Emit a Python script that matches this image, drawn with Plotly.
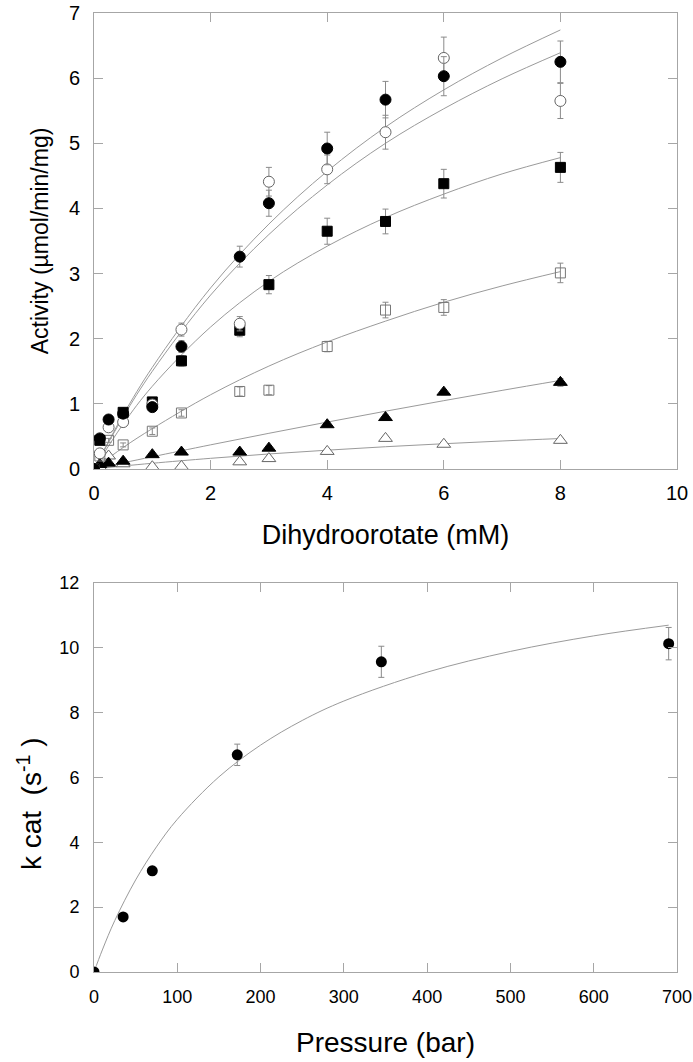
import plotly.graph_objects as go

# ---------------- Top panel: activity vs dihydroorotate ----------------
dho_mM = [0, 0.1, 0.25, 0.5, 1, 1.5, 2.5, 3, 4, 5, 6, 8]

act_filled_circle = [0, 0.47, 0.76, 0.85, 0.95, 1.88, 3.26, 4.08, 4.92, 5.67, 6.03, 6.25]
err_filled_circle = [0, 0.03, 0.04, 0.04, 0.05, 0.09, 0.16, 0.20, 0.25, 0.28, 0.30, 0.32]

act_open_circle = [0, 0.24, 0.64, 0.72, 0.99, 2.14, 2.23, 4.41, 4.60, 5.17, 6.31, 5.65]
err_open_circle = [0, 0.02, 0.04, 0.04, 0.05, 0.10, 0.11, 0.22, 0.22, 0.26, 0.32, 0.27]

act_filled_square = [0, 0.44, None, 0.87, 1.03, 1.66, 2.13, 2.83, 3.65, 3.80, 4.38, 4.63]
err_filled_square = [0, 0.03, 0, 0.05, 0.05, 0.08, 0.10, 0.14, 0.20, 0.19, 0.22, 0.23]

act_open_square = [0, 0.20, 0.44, 0.37, 0.58, 0.86, 1.19, 1.21, 1.88, 2.44, 2.48, 3.01]
err_open_square = [0, 0.02, 0.03, 0.03, 0.05, 0.05, 0.07, 0.07, 0.08, 0.12, 0.12, 0.15]

act_filled_tri = [0, 0.07, 0.09, 0.12, 0.22, 0.26, 0.26, 0.32, 0.68, 0.79, 1.18, 1.33]
err_filled_tri = [0, 0.01, 0.01, 0.01, 0.02, 0.02, 0.02, 0.03, 0.03, 0.04, 0.04, 0.06]

act_open_tri = [0, 0.03, 0.20, 0.08, 0.035, 0.04, 0.11, 0.16, 0.27, 0.47, 0.38, 0.44]
err_open_tri = [0, 0.01, 0.01, 0.01, 0.01, 0.01, 0.02, 0.02, 0.02, 0.03, 0.03, 0.03]

# fitted curves
fit_x = [0, 0.5, 1, 2, 3, 4, 5, 6, 7, 8]
fit_filled_circle = [0, 0.83, 1.56, 2.78, 3.76, 4.57, 5.25, 5.82, 6.31, 6.74]
fit_open_circle = [0, 0.80, 1.50, 2.67, 3.60, 4.36, 5.00, 5.53, 5.99, 6.39]
fit_filled_square = [0, 0.69, 1.27, 2.18, 2.88, 3.42, 3.86, 4.22, 4.53, 4.78]
fit_open_square = [0, 0.33, 0.62, 1.14, 1.58, 1.95, 2.27, 2.56, 2.81, 3.03]
fit_filled_tri = [0, 0.095, 0.188, 0.371, 0.548, 0.72, 0.887, 1.049, 1.207, 1.36]
fit_open_tri = [0, 0.046, 0.088, 0.164, 0.231, 0.289, 0.342, 0.388, 0.43, 0.468]

top_xticks = [0, 2, 4, 6, 8, 10]
top_yticks = [0, 1, 2, 3, 4, 5, 6, 7]

# ---------------- Bottom panel: kcat vs pressure ----------------
pressure_bar = [0, 35, 70, 172, 345, 690]
kcat = [0, 1.70, 3.12, 6.70, 9.57, 10.13]
kcat_err = [0, 0.05, 0.12, 0.33, 0.48, 0.50]

fit_p = [0, 10, 25, 50, 75, 100, 150, 200, 250, 300, 400, 500, 600, 690]
fit_kcat = [0, 0.68, 1.59, 2.84, 3.86, 4.71, 6.02, 7.00, 7.76, 8.36, 9.25, 9.89, 10.37, 10.70]

bot_xticks = [0, 100, 200, 300, 400, 500, 600, 700]
bot_yticks = [0, 2, 4, 6, 8, 10, 12]

FONT = "Liberation Sans, Arial, sans-serif"
AXC = "#a6a6a6"
LINEC = "#9a9a9a"
ERRC = "#8a8a8a"

fig = go.Figure()

fits = [fit_filled_circle, fit_open_circle, fit_filled_square,
        fit_open_square, fit_filled_tri, fit_open_tri]
for f in fits:
    fig.add_trace(go.Scatter(x=fit_x, y=f, mode="lines", line=dict(color=LINEC, width=1, shape="spline"),
                             showlegend=False, hoverinfo="skip", xaxis="x", yaxis="y"))

series = [
    (act_open_tri, err_open_tri, dict(symbol="triangle-up", size=12, color="white", line=dict(color="#666", width=1))),
    (act_filled_tri, err_filled_tri, dict(symbol="triangle-up", size=12, color="black", line=dict(color="black", width=1))),
    (act_open_square, err_open_square, dict(symbol="square-open", size=10, color="#777", line=dict(color="#777", width=1))),
    (act_filled_square, err_filled_square, dict(symbol="square", size=10, color="black", line=dict(color="black", width=1))),
    (act_open_circle, err_open_circle, dict(symbol="circle", size=11, color="white", line=dict(color="#666", width=1))),
    (act_filled_circle, err_filled_circle, dict(symbol="circle", size=11, color="black", line=dict(color="black", width=1))),
]
for y, e, m in series:
    fig.add_trace(go.Scatter(x=dho_mM, y=y, mode="markers", marker=m,
                             error_y=dict(type="data", array=e, visible=True, color=ERRC, thickness=1, width=3),
                             showlegend=False, xaxis="x", yaxis="y"))

fig.add_trace(go.Scatter(x=fit_p, y=fit_kcat, mode="lines", line=dict(color=LINEC, width=1, shape="spline"),
                         showlegend=False, hoverinfo="skip", xaxis="x2", yaxis="y2"))
fig.add_trace(go.Scatter(x=pressure_bar, y=kcat, mode="markers",
                         marker=dict(symbol="circle", size=11, color="black"),
                         error_y=dict(type="data", array=kcat_err, visible=True, color=ERRC, thickness=1, width=3),
                         showlegend=False, xaxis="x2", yaxis="y2"))

axis_common = dict(showgrid=False, zeroline=False, showline=True, linecolor=AXC, linewidth=1,
                   mirror="ticks", ticks="inside", ticklen=9, tickcolor=AXC, tickwidth=1,
                   automargin=False)

fig.update_layout(
    width=693, height=1062,
    margin=dict(l=94, r=16, t=13, b=90),
    paper_bgcolor="white", plot_bgcolor="white",
    font=dict(family=FONT, color="black"),
    xaxis=dict(domain=[0, 1], anchor="y", range=[0, 10], tickvals=top_xticks,
               tickfont=dict(size=20), ticklabelstandoff=6,
               title=dict(text="Dihydroorotate (mM)", font=dict(size=27), standoff=22), **axis_common),
    yaxis=dict(domain=[0.5245, 1], anchor="x", range=[0, 7], tickvals=top_yticks,
               tickfont=dict(size=20), ticklabelstandoff=9,
               title=dict(text="Activity (µmol/min/mg)", font=dict(size=23), standoff=13), **axis_common),
    xaxis2=dict(domain=[0, 1], anchor="y2", range=[0, 700], tickvals=bot_xticks,
                tickfont=dict(size=18), ticklabelstandoff=8,
                title=dict(text="Pressure (bar)", font=dict(size=28), standoff=26), **axis_common),
    yaxis2=dict(domain=[0, 0.4056], anchor="x2", range=[0, 12], tickvals=bot_yticks,
                tickfont=dict(size=18), ticklabelstandoff=10, **axis_common),
    annotations=[
        dict(text="k cat  (s<sup>-1</sup> )", textangle=-90, xref="paper", yref="paper",
             x=-0.110, y=0.176, xanchor="center", yanchor="middle", showarrow=False,
             font=dict(size=28, family=FONT, color="black")),
    ],
)

fig.write_html("out.html", config={"displayModeBar": False},
               post_script="document.body.style.margin='0';document.body.style.overflow='hidden';")
